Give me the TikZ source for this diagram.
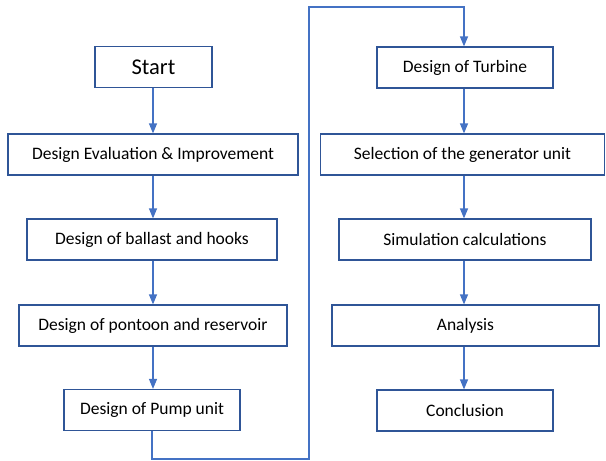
\documentclass[tikz,border=0pt]{standalone}
\usepackage{fontspec}
\setmainfont{Carlito}
\usetikzlibrary{arrows.meta}
\definecolor{boxline}{HTML}{2F5597}
\definecolor{arrowc}{HTML}{4472C4}
\tikzset{
  stepbox/.style={draw=boxline, line width=1.2pt, fill=white, minimum height=41pt, inner sep=0pt, font=\fontsize{17.5}{19}\selectfont, text=black},
  flow/.style={draw=arrowc, line width=1.2pt, -{Triangle[width=8pt,length=10pt]}}
}
\begin{document}
\begin{tikzpicture}[x=1pt,y=-1pt]
\useasboundingbox (0,0) rectangle (606,461);
\node[stepbox, minimum width=117pt, font=\fontsize{22.5}{24}\selectfont] (start) at (153.5,67) {Start};
\node[stepbox, minimum width=290pt] (eval) at (153,154.5) {Design Evaluation \& Improvement};
\node[stepbox, minimum width=250pt] (ballast) at (152,239.5) {Design of ballast and hooks};
\node[stepbox, minimum width=268pt] (pontoon) at (153,325.5) {Design of pontoon and reservoir};
\node[stepbox, minimum width=176pt] (pump) at (152,410) {Design of Pump unit};
\node[stepbox, minimum width=176pt] (turbine) at (465,67.5) {Design of Turbine};
\node[stepbox, minimum width=284pt] (select) at (462.5,154.5) {Selection of the generator unit};
\node[stepbox, minimum width=252pt] (sim) at (465,239.5) {Simulation calculations};
\node[stepbox, minimum width=267pt] (analysis) at (465.5,325.5) {Analysis};
\node[stepbox, minimum width=176pt] (concl) at (465,410.5) {Conclusion};
\coordinate (b1) at (152,459);
\coordinate (b2) at (309,459);
\coordinate (t1) at (309,7);
\coordinate (t2) at (464,7);
\draw[flow] (start.south -| 153,0) -- (eval.north -| 153,0);
\draw[flow] (eval.south -| 153,0) -- (ballast.north -| 153,0);
\draw[flow] (ballast.south -| 153,0) -- (pontoon.north -| 153,0);
\draw[flow] (pontoon.south -| 153,0) -- (pump.north -| 153,0);
\draw[flow] (pump.south -| 152,0) -- (b1) -- (b2) -- (t1) -- (t2) -- (turbine.north -| 464,0);
\draw[flow] (turbine.south -| 464,0) -- (select.north -| 464,0);
\draw[flow] (select.south -| 464,0) -- (sim.north -| 464,0);
\draw[flow] (sim.south -| 464,0) -- (analysis.north -| 464,0);
\draw[flow] (analysis.south -| 464,0) -- (concl.north -| 464,0);
\end{tikzpicture}
\end{document}
